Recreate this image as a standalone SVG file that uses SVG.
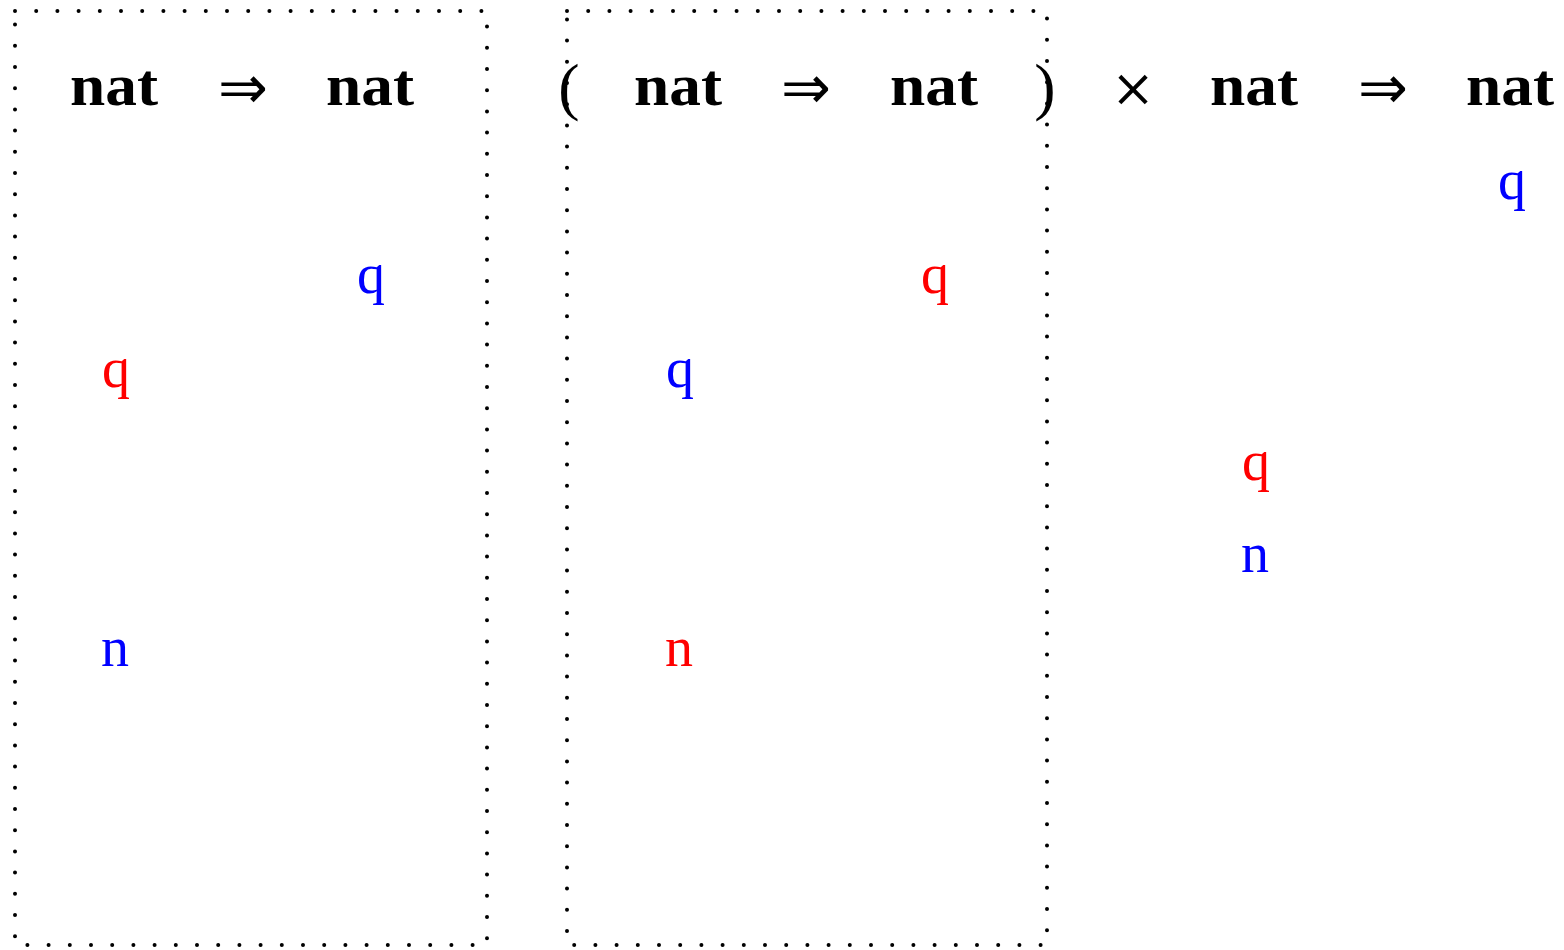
<svg xmlns="http://www.w3.org/2000/svg" width="1564" height="950" viewBox="0 0 1564 950">
<style>
.box{fill:none;stroke:#000;stroke-width:4;stroke-dasharray:0 21.2;stroke-linecap:round}
.b{font-family:"Liberation Serif",serif;font-weight:bold;font-size:60px;text-anchor:middle;fill:#000}
.op{font-family:"DejaVu Sans","Liberation Serif",sans-serif;font-size:60px;text-anchor:middle;fill:#000}
.x{font-family:"DejaVu Serif","Liberation Serif",serif;font-size:52px;text-anchor:middle;fill:#000}
.p{font-family:"Liberation Serif",serif;font-size:64px;text-anchor:middle;fill:#000}
.v{font-family:"Liberation Serif",serif;font-size:56px;text-anchor:middle}
.r{fill:#ff0000}.u{fill:#0000ff}
</style>
<rect width="1564" height="950" fill="#fff"/>
<g id="box1"><rect class="box" x="15" y="11" width="472" height="934"/></g>
<g id="box2"><rect class="box" x="567" y="11" width="480" height="934"/></g>
<g id="type">
<text class="b" x="114" y="105" textLength="88" lengthAdjust="spacingAndGlyphs">nat</text>
<text class="op" x="243" y="108" textLength="50" lengthAdjust="spacingAndGlyphs">⇒</text>
<text class="b" x="370" y="105" textLength="88" lengthAdjust="spacingAndGlyphs">nat</text>
<text class="p" x="569" y="108">(</text>
<text class="b" x="678" y="105" textLength="88" lengthAdjust="spacingAndGlyphs">nat</text>
<text class="op" x="806" y="108" textLength="50" lengthAdjust="spacingAndGlyphs">⇒</text>
<text class="b" x="934" y="105" textLength="88" lengthAdjust="spacingAndGlyphs">nat</text>
<text class="p" x="1045" y="108">)</text>
<text class="x" x="1133" y="106">×</text>
<text class="b" x="1254" y="105" textLength="88" lengthAdjust="spacingAndGlyphs">nat</text>
<text class="op" x="1383" y="108" textLength="50" lengthAdjust="spacingAndGlyphs">⇒</text>
<text class="b" x="1510" y="105" textLength="88" lengthAdjust="spacingAndGlyphs">nat</text>
</g>
<g id="labels">
<text class="v u" x="371" y="293">q</text>
<text class="v r" x="116" y="387">q</text>
<text class="v u" x="115" y="666">n</text>
<text class="v r" x="935" y="293">q</text>
<text class="v u" x="680" y="387">q</text>
<text class="v r" x="679" y="666">n</text>
<text class="v u" x="1512" y="199">q</text>
<text class="v r" x="1256" y="480">q</text>
<text class="v u" x="1255" y="572">n</text>
</g>
</svg>
